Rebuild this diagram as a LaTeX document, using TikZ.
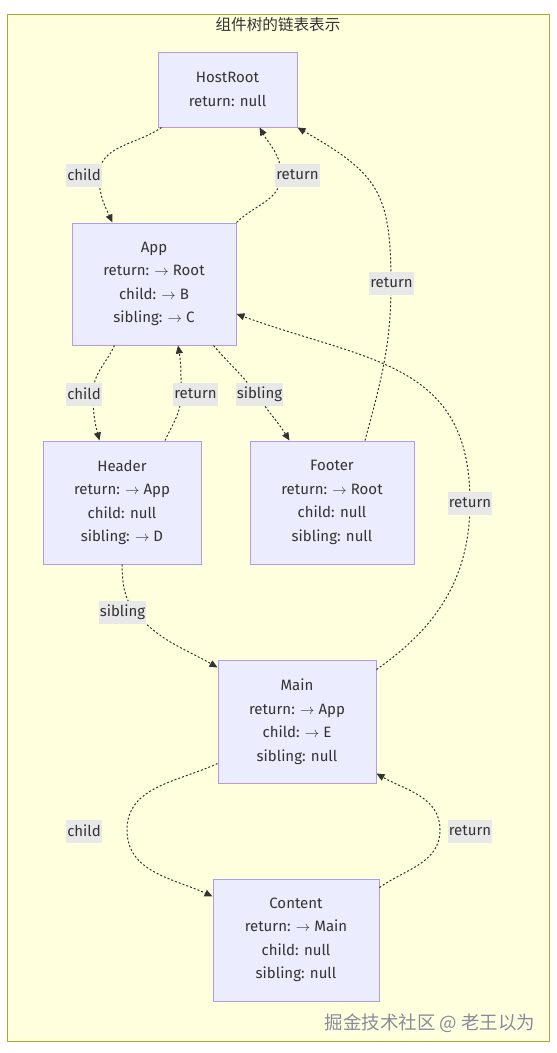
\documentclass[tikz,border=0pt]{standalone}
\usepackage{fontspec}
\setmainfont{Fira Sans}
\newfontfamily\cjkfont{Noto Sans CJK SC}
\usepackage{tikz}
\usetikzlibrary{arrows.meta,positioning}
\definecolor{clusterfill}{HTML}{FFFFDE}
\definecolor{clusterline}{HTML}{AAAA33}
\definecolor{nodefill}{HTML}{ECECFF}
\definecolor{nodeline}{HTML}{B39BE6}
\definecolor{ink}{HTML}{333333}
\definecolor{labelfill}{HTML}{E8E8E8}
\newcommand{\ra}{$\rightarrow$}

\begin{document}
\begin{tikzpicture}[x=1pt,y=1pt]
\tikzset{
    fiber/.style={
       draw=nodeline,
       fill=nodefill,
       line width=1pt,
       text=ink,
       align=center,
       font=\fontsize{15}{23.5}\selectfont
    },
    edge/.style={
       draw=ink,
       line width=1pt,
       dash pattern=on 2pt off 2pt,
       -{Triangle[length=8pt,width=7pt]}
    },
    lbl/.style={
       fill=labelfill,
       text=ink,
       inner xsep=1pt,
       inner ysep=0pt,
       minimum height=23pt,
       font=\fontsize{15}{17}\selectfont
    }
}
%
\useasboundingbox (0,0) rectangle (557,-1053);
\fill[white] (0,0) rectangle (557,-1053);
\draw[draw=clusterline, fill=clusterfill, line width=1pt] (7,-14) rectangle (549,-1041);
\node[text=ink, font=\cjkfont\fontsize{15.6}{17}\selectfont] (title) at (278,-25) {组件树的链表表示};

% fibers
\node[fiber, minimum width=139pt, minimum height=75pt] (hr) at (227.5,-89.5) {HostRoot\\return: null};
\node[fiber, minimum width=164pt, minimum height=122pt] (app) at (154,-284) {App\\return: \ra{} Root\\child: \ra{} B\\sibling: \ra{} C};
\node[fiber, minimum width=158pt, minimum height=123pt] (hdr) at (122,-502.5) {Header\\return: \ra{} App\\child: null\\sibling: \ra{} D};
\node[fiber, minimum width=164pt, minimum height=123pt] (ftr) at (332,-502.5) {Footer\\return: \ra{} Root\\child: null\\sibling: null};
\node[fiber, minimum width=158pt, minimum height=123pt] (main) at (297,-721.5) {Main\\return: \ra{} App\\child: \ra{} E\\sibling: null};
\node[fiber, minimum width=166pt, minimum height=122pt] (cnt) at (296,-940) {Content\\return: \ra{} Main\\child: null\\sibling: null};

% links
\draw[edge] ([xshift=4pt]hr.south west) to[out=215,in=90] (99,-176) to[out=-90,in=115] ([xshift=41pt]app.north west);
\draw[edge] (app.north east) to[out=45,in=-90] (281,-175) to[out=90,in=-60] ([xshift=32pt]hr.south);
\draw[edge] ([xshift=33pt]ftr.north) to[out=75,in=-90] (391,-284) to[out=90,in=-30,looseness=1.3] (hr.south east);
\draw[edge] ([xshift=43pt]app.south west) to[out=245,in=90] (93,-394) to[out=-90,in=105] ([xshift=57pt]hdr.north west);
\draw[edge] ([xshift=43pt]hdr.north) to[out=65,in=-90] (181,-394) to[out=90,in=-80] ([xshift=24pt]app.south);
\draw[edge] ([xshift=-23pt]app.south east) to[out=-50,in=125] (256,-394) to[out=-55,in=122] ([xshift=40pt]ftr.north west);
\draw[edge] (hdr.south) to[out=-88,in=125] (134,-611) to[out=-50,in=150] ([yshift=-8pt]main.north west);
\draw[edge] ([yshift=-10pt]main.north east) to[out=35,in=-90] (470,-502) to[out=90,in=-20,looseness=1.2] ([yshift=-30pt]app.east);
\draw[edge] ([yshift=20pt]main.south west) to[out=205,in=90] (127,-830) to[out=-90,in=155] ([yshift=-18pt]cnt.north west);
\draw[edge] ([yshift=-9pt]cnt.north east) to[out=35,in=-90] (440,-830) to[out=90,in=-30] ([yshift=10pt]main.south east);

% labels
\node[lbl] (lchild1) at (84,-175) {child};
\node[lbl] (lret1) at (297.5,-175) {return};
\node[lbl] (lret2) at (391.5,-283) {return};
\node[lbl] (lchild2) at (84,-394) {child};
\node[lbl] (lret3) at (195.5,-394) {return};
\node[lbl] (lsib1) at (259.5,-394) {sibling};
\node[lbl] (lret4) at (470,-503) {return};
\node[lbl] (lsib2) at (122.5,-612) {sibling};
\node[lbl] (lchild3) at (84,-831) {child};
\node[lbl] (lret5) at (470,-831) {return};

% watermark
\node[text=white, font=\cjkfont\fontsize{18.5}{20}\selectfont] (markshadow) at (431,-1024) {掘金技术社区 @ 老王以为};
\node[text=black!45, font=\cjkfont\fontsize{18.5}{20}\selectfont] (mark) at (430,-1023) {掘金技术社区 @ 老王以为};
\end{tikzpicture}
\end{document}
